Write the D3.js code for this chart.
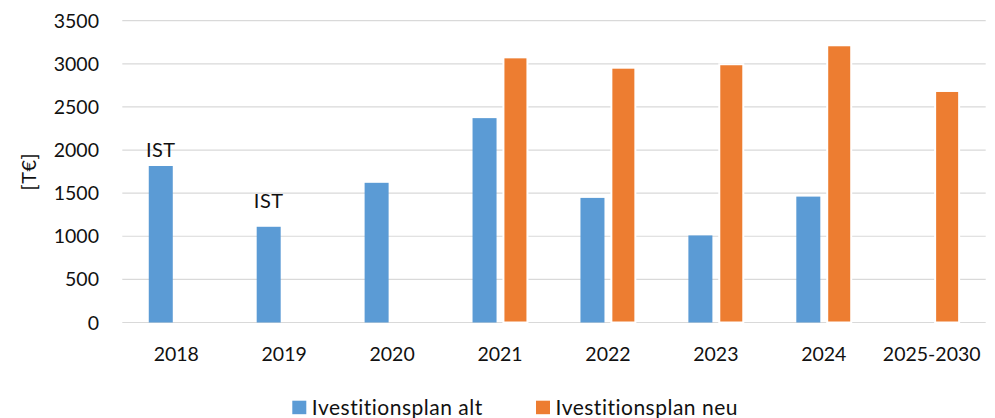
<!DOCTYPE html>
<html>
<head>
<meta charset="utf-8">
<script src="https://cdn.jsdelivr.net/npm/d3@7"></script>
<style>
  html, body { margin: 0; padding: 0; background: #fff; }
  svg text { font-family: Lato, "Open Sans", sans-serif; fill: #111; }
</style>
</head>
<body>
<div id="chart"></div>
<script>
// Investment plan bar chart: old plan (blue) vs new plan (orange), in T€.

const categories = ['2018', '2019', '2020', '2021', '2022', '2023', '2024', '2025-2030'];
const seriesNames = ['Ivestitionsplan alt', 'Ivestitionsplan neu'];
const planAlt = [1815, 1110, 1620, 2370, 1445, 1010, 1460, null];
const planNeu = [null, null, null, 3075, 2955, 2995, 3215, 2685];
const yTicks = [0, 500, 1000, 1500, 2000, 2500, 3000, 3500];
// "IST" notes drawn above the first two bars (value level of the text centre)
const istNotes = [
    {category: '2018', at: 2000, text: 'IST'},
    {category: '2019', at: 1410, text: 'IST'}
];

const COLORS = {'Ivestitionsplan alt': '#5b9bd5', 'Ivestitionsplan neu': '#ed7d31'};

const width = 995, height = 418;
const plot = {left: 122.3, right: 985.7, top: 20.7, bottom: 322.5};

const svg = d3.select('#chart').append('svg')
    .attr('width', width)
    .attr('height', height);

const x = d3.scaleBand()
    .domain(categories)
    .range([plot.left, plot.right])
    .padding(0);

// bars inside a category, offsets relative to the category centre
const x1 = d3.scaleBand()
    .domain(seriesNames)
    .range([-27.5, 27.4])
    .paddingInner(0.223);

const y = d3.scaleLinear()
    .domain([0, 3500])
    .range([plot.bottom, plot.top]);

// gridlines
svg.append('g')
    .selectAll('line')
    .data(yTicks)
    .join('line')
    .attr('x1', plot.left)
    .attr('x2', plot.right)
    .attr('y1', d => y(d))
    .attr('y2', d => y(d))
    .attr('stroke', '#d9d9d9')
    .attr('stroke-width', 1.2);

// y tick labels
svg.append('g')
    .selectAll('text')
    .data(yTicks)
    .join('text')
    .attr('x', 99)
    .attr('y', d => y(d))
    .attr('dy', '0.36em')
    .attr('text-anchor', 'end')
    .attr('font-size', 19.5)
    .text(d => d);

// y axis title
svg.append('text')
    .attr('transform', `translate(36,${(plot.top + plot.bottom) / 2}) rotate(-90)`)
    .attr('text-anchor', 'middle')
    .attr('font-size', 20)
    .attr('letter-spacing', 0.5)
    .text('[T€]');

// bars
const rows = categories.map((c, i) => ({category: c, values: [planAlt[i], planNeu[i]]}));

const groups = svg.append('g')
    .selectAll('g')
    .data(rows)
    .join('g')
    .attr('transform', d => `translate(${x(d.category) + x.bandwidth() / 2},0)`);

groups.selectAll('rect')
    .data(d => seriesNames.map((s, j) => ({series: s, value: d.values[j]})).filter(v => v.value != null))
    .join('rect')
    .attr('x', d => x1(d.series))
    .attr('width', x1.bandwidth())
    .attr('y', d => y(d.value))
    .attr('height', d => y(0) - y(d.value))
    .attr('fill', d => COLORS[d.series])
    .attr('stroke', d => d.series === 'Ivestitionsplan neu' ? '#fff' : 'none')
    .attr('stroke-width', 2);

// IST notes
svg.append('g')
    .selectAll('text')
    .data(istNotes)
    .join('text')
    .attr('x', d => x(d.category) + x.bandwidth() / 2 + x1(seriesNames[0]) + x1.bandwidth() / 2)
    .attr('y', d => y(d.at))
    .attr('dy', '0.36em')
    .attr('text-anchor', 'middle')
    .attr('font-size', 20)
    .attr('letter-spacing', 0.5)
    .text(d => d.text);

// x tick labels
svg.append('g')
    .selectAll('text')
    .data(categories)
    .join('text')
    .attr('x', d => x(d) + x.bandwidth() / 2)
    .attr('y', 354)
    .attr('dy', '0.36em')
    .attr('text-anchor', 'middle')
    .attr('font-size', 19.5)
    .text(d => d);

// legend
const legendX = [292.3, 536];
const legend = svg.append('g')
    .selectAll('g')
    .data(seriesNames)
    .join('g')
    .attr('transform', (d, i) => `translate(${legendX[i]},407.5)`);

legend.append('rect')
    .attr('x', 0)
    .attr('y', -6.8)
    .attr('width', 14)
    .attr('height', 13.5)
    .attr('fill', d => COLORS[d]);

legend.append('text')
    .attr('x', 19.5)
    .attr('y', 0)
    .attr('dy', '0.36em')
    .attr('font-size', 21)
    .attr('letter-spacing', 0.5)
    .text(d => d);
</script>
</body>
</html>
